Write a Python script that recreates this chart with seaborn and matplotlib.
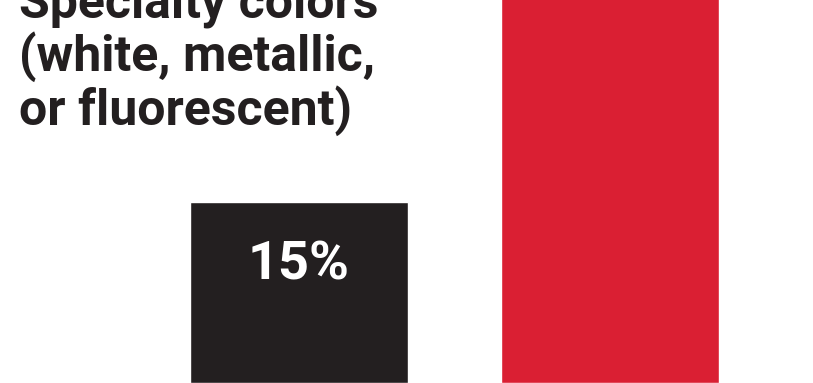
import pandas as pd
import matplotlib.pyplot as plt
import seaborn as sns

# data
categories = ["Specialty colors", "Other"]
values = [15, 40]
bar_colors = ["#231F20", "#DA1F33"]
value_labels = ["15%", ""]
title_text = "Specialty colors\n(white, metallic,\nor fluorescent)"

df = pd.DataFrame({"category": categories, "value": values})

sns.set_style("white")
plt.rcParams["font.family"] = ["Roboto", "DejaVu Sans"]

fig = plt.figure(figsize=(8.13, 3.83), dpi=100)
ax = fig.add_axes([0, 0, 1, 1])

sns.barplot(data=df, x="category", y="value", hue="category",
            palette=bar_colors, width=0.7, saturation=1, legend=False, ax=ax)

# layout: view is cropped like the reference
ax.set_xlim(-0.9614, 1.6527)
ax.set_ylim(0, 31.74)
ax.axis("off")

# value label sits inside the bar, a bit below its top
for i, lab in enumerate(value_labels):
    if lab:
        ax.text(i, values[i] - 6.4, lab, ha="center", va="baseline",
                color="white", fontsize=39, fontweight="bold")

fig.text(19 / 813, 1 - 125 / 383, title_text, ha="left", va="baseline",
         fontsize=36, fontweight="bold", color="#231F20", linespacing=1.08)

fig.savefig("out.png", dpi=100)
